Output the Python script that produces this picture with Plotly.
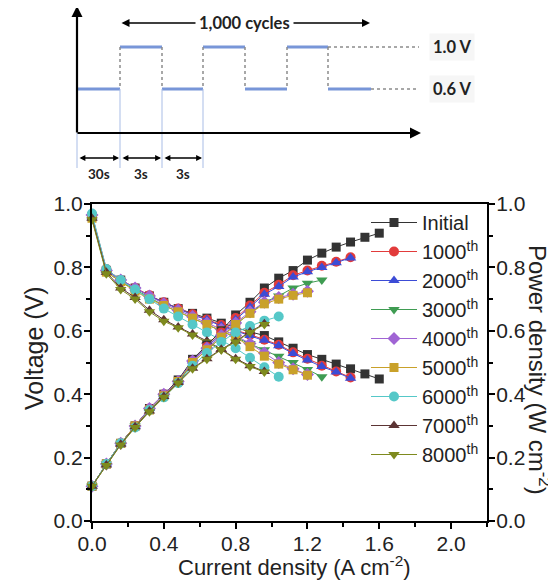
import plotly.graph_objects as go

# the page adds an 8 px body margin; the figure is sized to fill the rest of the window
WIN_W, WIN_H = 556, 583
OFF = 8
W, H = WIN_W - OFF, WIN_H - OFF

# ---------------- data ----------------
current = [0.00, 0.08, 0.16, 0.24, 0.32, 0.40, 0.48, 0.56, 0.64, 0.72, 0.80,
           0.88, 0.96, 1.04, 1.12, 1.20, 1.28, 1.36, 1.44, 1.52, 1.60]

names = ["Initial", "1000<sup>th</sup>", "2000<sup>th</sup>", "3000<sup>th</sup>",
         "4000<sup>th</sup>", "5000<sup>th</sup>", "6000<sup>th</sup>",
         "7000<sup>th</sup>", "8000<sup>th</sup>"]

v_initial = [0.96, 0.79, 0.76, 0.735, 0.71, 0.69, 0.67, 0.655, 0.64, 0.624, 0.61,
             0.597, 0.585, 0.565, 0.545, 0.525, 0.51, 0.495, 0.48, 0.464, 0.448]
p_initial = [0.11, 0.18, 0.245, 0.30, 0.355, 0.40, 0.445, 0.51, 0.555, 0.60, 0.65,
             0.69, 0.735, 0.766, 0.79, 0.823, 0.845, 0.864, 0.88, 0.895, 0.908]

v_1000 = [0.965, 0.795, 0.76, 0.735, 0.712, 0.69, 0.67, 0.652, 0.636, 0.618, 0.602,
          0.588, 0.572, 0.556, 0.532, 0.512, 0.49, 0.472, 0.453]
p_1000 = [0.11, 0.18, 0.245, 0.30, 0.355, 0.40, 0.44, 0.505, 0.55, 0.595, 0.64,
          0.68, 0.72, 0.745, 0.775, 0.79, 0.805, 0.818, 0.832]

v_2000 = [0.96, 0.79, 0.76, 0.735, 0.71, 0.69, 0.67, 0.65, 0.635, 0.615, 0.60,
          0.585, 0.57, 0.553, 0.528, 0.508, 0.487, 0.47, 0.45]
p_2000 = [0.11, 0.18, 0.245, 0.30, 0.355, 0.40, 0.44, 0.505, 0.55, 0.59, 0.635,
          0.675, 0.715, 0.74, 0.77, 0.786, 0.80, 0.815, 0.83]

v_3000 = [0.96, 0.785, 0.755, 0.73, 0.705, 0.68, 0.66, 0.64, 0.62, 0.60, 0.58,
          0.56, 0.54, 0.52, 0.50, 0.478, 0.455]
p_3000 = [0.11, 0.18, 0.245, 0.30, 0.35, 0.395, 0.435, 0.50, 0.54, 0.58, 0.62,
          0.655, 0.69, 0.71, 0.735, 0.75, 0.76]

v_4000 = [0.965, 0.79, 0.76, 0.735, 0.71, 0.685, 0.665, 0.645, 0.625, 0.605, 0.585,
          0.56, 0.53, 0.50, 0.48, 0.462]
p_4000 = [0.11, 0.18, 0.245, 0.30, 0.355, 0.40, 0.44, 0.505, 0.545, 0.585, 0.625,
          0.66, 0.69, 0.705, 0.715, 0.725]

v_5000 = [0.955, 0.785, 0.755, 0.725, 0.70, 0.68, 0.66, 0.64, 0.62, 0.60, 0.58,
          0.55, 0.52, 0.495, 0.477, 0.46]
p_5000 = [0.11, 0.18, 0.245, 0.30, 0.35, 0.395, 0.44, 0.50, 0.54, 0.58, 0.62,
          0.655, 0.685, 0.70, 0.712, 0.72]

v_6000 = [0.97, 0.795, 0.76, 0.73, 0.70, 0.67, 0.645, 0.62, 0.595, 0.57, 0.545,
          0.515, 0.485, 0.455]
p_6000 = [0.11, 0.18, 0.245, 0.295, 0.35, 0.39, 0.435, 0.49, 0.53, 0.565, 0.595,
          0.615, 0.632, 0.645]

v_7000 = [0.955, 0.785, 0.735, 0.705, 0.665, 0.635, 0.612, 0.59, 0.568, 0.542, 0.512,
          0.49, 0.472]
p_7000 = [0.11, 0.177, 0.242, 0.297, 0.347, 0.393, 0.437, 0.482, 0.512, 0.542, 0.567,
          0.597, 0.622]

v_8000 = [0.95, 0.78, 0.73, 0.70, 0.66, 0.63, 0.61, 0.587, 0.565, 0.54, 0.51,
          0.487, 0.47]
p_8000 = [0.11, 0.175, 0.24, 0.295, 0.345, 0.39, 0.435, 0.48, 0.51, 0.54, 0.565,
          0.595, 0.62]

voltages = [v_initial, v_1000, v_2000, v_3000, v_4000, v_5000, v_6000, v_7000, v_8000]
powers = [p_initial, p_1000, p_2000, p_3000, p_4000, p_5000, p_6000, p_7000, p_8000]

colors = ["#333333", "#e23b3b", "#3c4cd6", "#3f9c52", "#a064d4", "#c9a12a",
          "#55c8c8", "#5c3434", "#7e8a1e"]
symbols = ["square", "circle", "triangle-up", "triangle-down", "diamond", "square",
           "circle", "triangle-up", "triangle-down"]
sizes = [9, 10, 10, 10, 10, 9, 10, 10, 10]

# schematic (cycling protocol) drawn in window-pixel-like units
sch_edges = [77, 120, 162, 203, 245, 287, 328, 371]
sch_levels = [89, 47, 89, 47, 89, 47, 89]       # 0.6 V, 1.0 V alternating
sch_level_labels = ["1.0 V", "0.6 V"]
sch_interval_labels = ["30s", "3s", "3s"]

FONT = "Liberation Sans"
TXT = "#222222"


def px(x):
    return (x - OFF) / W


def py(y):
    return 1 - (y - OFF) / H


fig = go.Figure()

# ---------- main chart traces ----------
for i, name in enumerate(names):
    n = len(voltages[i])
    xs = current[:n]
    common = dict(
        mode="lines+markers",
        line=dict(color=colors[i], width=1),
        marker=dict(symbol=symbols[i], size=sizes[i], color=colors[i]),
        legendgroup="g%d" % i,
        cliponaxis=False,
        xaxis="x",
    )
    fig.add_trace(go.Scatter(x=xs, y=voltages[i], name=name, showlegend=True,
                             yaxis="y", **common))
    fig.add_trace(go.Scatter(x=xs, y=powers[i][:n], name=name, showlegend=False,
                             yaxis="y2", **common))

# ---------- schematic traces ----------
blue = "#7896d8"
lx, ly = [], []
for k in range(len(sch_levels)):
    lx += [sch_edges[k], sch_edges[k + 1], None]
    ly += [sch_levels[k], sch_levels[k], None]
fig.add_trace(go.Scatter(x=lx, y=ly, mode="lines", line=dict(color=blue, width=2.8),
                         xaxis="x3", yaxis="y3", showlegend=False, hoverinfo="skip"))

dx, dy = [], []
for e in sch_edges[1:-1]:
    dx += [e, e, None]
    dy += [47, 89, None]
dx += [sch_edges[-2], 419, None, sch_edges[-1], 419, None]
dy += [47, 47, None, 89, 89, None]
fig.add_trace(go.Scatter(x=dx, y=dy, mode="lines",
                         line=dict(color="#8c8c8c", width=1.5, dash="dot"),
                         xaxis="x3", yaxis="y3", showlegend=False, hoverinfo="skip"))

gx, gy = [77, 77, None], [133, 168, None]
for e in sch_edges[1:4]:
    gx += [e, e, None]
    gy += [89, 168, None]
fig.add_trace(go.Scatter(x=gx, y=gy, mode="lines", line=dict(color="#a9bde6", width=1),
                         xaxis="x3", yaxis="y3", showlegend=False, hoverinfo="skip"))

annotations = []


def arrow(x0, y0, x1, y1, both=False, width=2.0, size=1.0):
    annotations.append(dict(
        x=x1, y=y1, ax=x0, ay=y0, xref="x3", yref="y3", axref="x3", ayref="y3",
        showarrow=True, arrowhead=2, arrowsize=size, arrowwidth=width,
        arrowcolor="black", text="", arrowside="end+start" if both else "end"))


arrow(77, 134, 77, 6, width=2.2)
arrow(76, 133, 421, 133, width=2.2)
arrow(120, 23, 370, 23, both=True, width=1.6)
annotations.append(dict(x=244, y=23, xref="x3", yref="y3", showarrow=False,
                        xanchor="center", yanchor="middle",
                        text="<b>1,000 cycles</b>", bgcolor="white", borderpad=3,
                        font=dict(family="Lato", size=16.5, color=TXT)))
for k in range(3):
    arrow(sch_edges[k] + 1, 158, sch_edges[k + 1] - 1, 158, both=True, width=1.3, size=0.9)
    annotations.append(dict(x=(sch_edges[k] + sch_edges[k + 1]) / 2, y=174,
                            xref="x3", yref="y3", showarrow=False,
                            xanchor="center", yanchor="middle",
                            text="<b>%s</b>" % sch_interval_labels[k],
                            font=dict(family="Lato", size=13.5, color=TXT)))
for lab, yy in zip(sch_level_labels, [47, 89]):
    annotations.append(dict(x=429, y=yy, xref="x3", yref="y3", xanchor="left",
                            yanchor="middle",
                            showarrow=False, text="<b>%s</b>" % lab,
                            bgcolor="#f6f6f6", borderpad=3,
                            font=dict(family="Lato", size=16.5, color=TXT)))

annotations.append(dict(x=px(294), y=py(566), xref="paper", yref="paper",
                        xanchor="center", yanchor="middle",
                        showarrow=False, text="Current density (A cm<sup>-2</sup>)",
                        font=dict(family=FONT, size=22, color=TXT)))
annotations.append(dict(x=px(34), y=py(348), xref="paper", yref="paper",
                        xanchor="center", yanchor="middle",
                        showarrow=False, text="Voltage (V)", textangle=-90,
                        font=dict(family=FONT, size=25, color=TXT)))
annotations.append(dict(x=px(539), y=py(370), xref="paper", yref="paper",
                        xanchor="center", yanchor="middle",
                        showarrow=False, text="Power density (W cm<sup>-2</sup>)",
                        textangle=90,
                        font=dict(family=FONT, size=24, color=TXT)))

axis_common = dict(
    showgrid=False, zeroline=False, showline=True, linecolor="black", linewidth=2,
    ticks="outside", ticklen=6, tickwidth=2, tickcolor="black",
    tickfont=dict(family=FONT, size=21, color=TXT), tickformat=".1f",
    automargin=False, ticklabelstandoff=-3,
)
minor_common = dict(ticks="outside", ticklen=4, tickwidth=1.5, tickcolor="black")

fig.update_layout(
    width=W, height=H,
    margin=dict(l=0, r=0, t=0, b=0),
    paper_bgcolor="white", plot_bgcolor="white",
    font=dict(family=FONT, color=TXT),
    showlegend=True,
    xaxis=dict(domain=[px(92), px(487)], range=[0, 2.2], tick0=0, dtick=0.4, anchor="y",
               mirror=True, minor=dict(dtick=0.2, **minor_common), **axis_common),
    yaxis=dict(domain=[py(521), py(204)], range=[0, 1.0], tick0=0, dtick=0.2, anchor="x",
               minor=dict(dtick=0.1, **minor_common), **axis_common),
    yaxis2=dict(range=[0, 1.0], tick0=0, dtick=0.2, anchor="x", overlaying="y",
                side="right", minor=dict(dtick=0.1, **minor_common), **axis_common),
    xaxis3=dict(domain=[0, 1], range=[OFF, WIN_W], visible=False, anchor="y3",
                fixedrange=True),
    yaxis3=dict(domain=[py(180), 1], range=[180, OFF], visible=False, anchor="x3",
                fixedrange=True),
    legend=dict(x=px(366), y=py(203), xanchor="left", yanchor="top",
                bgcolor="rgba(0,0,0,0)", traceorder="grouped", tracegroupgap=0,
                itemwidth=46, font=dict(family=FONT, size=20, color=TXT)),
    annotations=annotations,
)

fig.write_html("out.html")
